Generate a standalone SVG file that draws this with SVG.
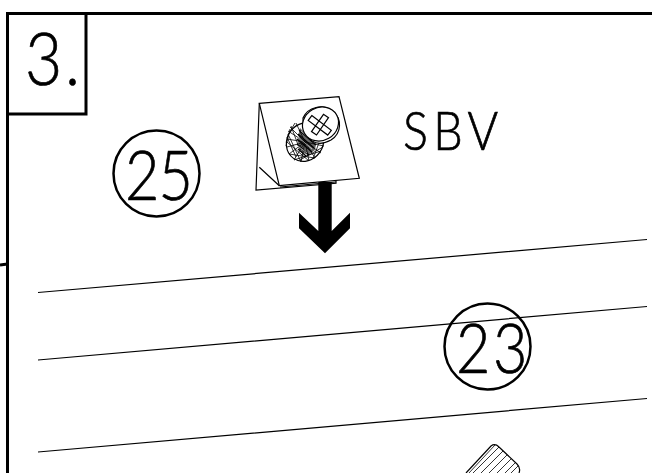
<svg xmlns="http://www.w3.org/2000/svg" width="652" height="473" viewBox="0 0 652 473">
<style>
.f{fill:none;stroke:#000;stroke-width:3}
.c{fill:none;stroke:#000;stroke-width:2.5}
.l{fill:none;stroke:#000;stroke-width:1.2}
.t{fill:none;stroke:#000;stroke-width:.8}
.x{font-family:"Lato","Liberation Sans",sans-serif;font-weight:300;fill:#000;stroke:#000;stroke-width:.7}
</style>
<rect width="652" height="473" fill="#fff"/>
<g id="frame">
<path class="f" d="M652 13.500H7.500V473M7.500 13.500H86V114H7.500M0 265L7.500 264"/>
<text class="x" transform="translate(25 85) scale(.88 1)" font-size="73" letter-spacing="3">3.</text>
</g>
<g id="connectors">
<path class="l" d="M38 292.500L647 239.500M38 360L647 306.500M38 452L647 398.500"/>
</g>
<g id="callout-25">
<circle class="c" cx="156.500" cy="173.500" r="43"/>
<text class="x" transform="translate(125 200) scale(.86 1)" font-size="69" letter-spacing="-1">25</text>
</g>
<g id="callout-23">
<circle class="c" cx="487.500" cy="346.500" r="43"/>
<text class="x" transform="translate(456 373) scale(.86 1)" font-size="69" letter-spacing="3">23</text>
</g>
<g id="label-sbv">
<text class="x" transform="translate(403 150) scale(.88 1)" font-size="53" letter-spacing="6">SBV</text>
</g>
<g id="screw-card">
<path class="l" fill="#fff" d="M259.300 103.300L256 190L336 183.300V178"/>
<path class="l" d="M259.300 167.300L279.300 185.700M280 187L336 182"/>
<path class="l" style="fill:#fff" d="M259.300 103.300L339 96.700L359.300 178.300L279.300 185.700Z"/>
<g id="screw">
<ellipse class="l" cx="305" cy="142" rx="18" ry="20" transform="rotate(35 305 142)"/>
<path class="t" d="M305 142L288 131M305 142L287 139M305 142L287 147M305 142L289 154M305 142L294 160M305 142L301 162M305 142L309 161M305 142L315 158M305 142L321 153M305 142L324 146M305 142L296 123M305 142L290 127M288 134L301 162M287 142L309 161M289 154L315 158M294 160L321 151M291 126L300 150M287 137L296 157M300 160L323 147M313 159L320 140M290 129L286 146M295 123L288 135"/>
<path d="M299 132L300 128L316 144L315 150L308 155L301 152L298 142Z" fill="#000" opacity=".6"/>
<path d="M298 134L314 148M297 139L312 152M297 144L309 155M299 130L316 145M298 149L306 156" stroke="#000" stroke-width="1.300" fill="none"/>
<path stroke="#fff" stroke-width=".6" fill="none" d="M298 137L312 149M298 146L307 153M301 131L315 143"/>
<path class="l" style="fill:#fff" d="M303 118A19 18 0 1 1 331 140Q320 146 312 141Q302 132 303 118Z"/>
<ellipse class="l" cx="320.500" cy="124" rx="18.500" ry="16.500" style="fill:#fff" transform="rotate(-30 320.500 124)"/>
<path class="l" d="M311.800 115.600L331.300 130.300L327.700 135.100L308.200 120.400ZM328.500 117.700L316.500 135L311.500 131.600L323.500 114.300Z"/>
</g>
<path d="M318.300 182H331.700V231L350 212.700V228.300L325 253.300L299 228.300V212.700L318.300 231Z" fill="#000"/>
</g>
<g id="hatched-part">
<path class="l" d="M466 473L491 446Q495 443 499 447L517 464Q521 468 519 473"/>
<path class="t" d="M473 473L499 447M481 473L503 451M489 473L507 455M497 473L511 459M505 473L515 463M511 473L518 466M469 473L495 445"/>
</g>
</svg>
